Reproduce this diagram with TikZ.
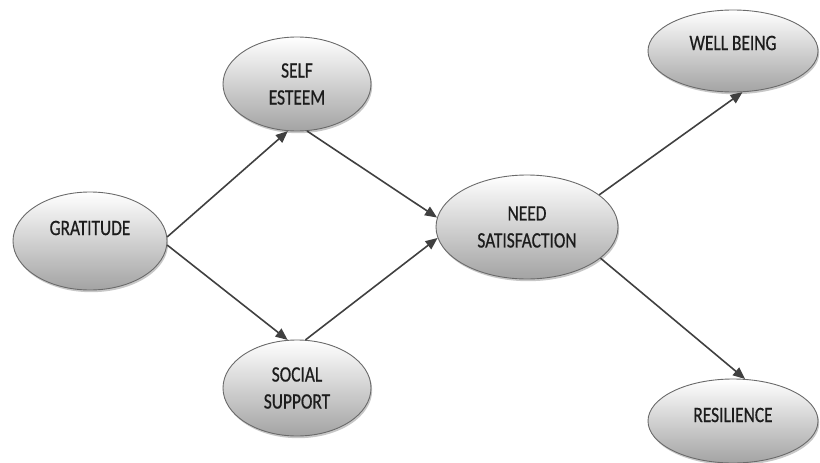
\documentclass[tikz,border=0pt]{standalone}
\usepackage{fontspec}
\setmainfont{Carlito}
\newfontfamily\lblfont[FakeStretch=0.79,FakeBold=0.6]{Carlito}
\usetikzlibrary{shapes.geometric,arrows.meta,shadows}

\definecolor{edgegray}{HTML}{404040}
\definecolor{rimgray}{HTML}{6A6A6A}
\definecolor{txtdark}{HTML}{1C1C1C}

\tikzset{
  construct/.style={ellipse, draw=rimgray, line width=0.9pt, inner sep=0pt,
    top color=white, bottom color=black!36,
    drop shadow={shadow xshift=1.2pt, shadow yshift=-2.2pt, fill=black, opacity=0.22}},
  lbl/.style={font=\lblfont\fontsize{22}{27}\selectfont, text=txtdark, align=center, inner sep=0pt},
  path/.style={draw=edgegray, line width=1.6pt, -{Triangle[length=12pt,width=10pt]}}
}

\begin{document}
\begin{tikzpicture}[x=1pt,y=-1pt]
  \useasboundingbox (0,0) rectangle (820,463);

  % latent constructs
  \node[construct, minimum width=154, minimum height=98]  (grat)   at (90,241)  {};
  \node[construct, minimum width=148, minimum height=94]  (self)   at (297,84)  {};
  \node[construct, minimum width=148, minimum height=96]  (social) at (297,388) {};
  \node[construct, minimum width=182, minimum height=104] (need)   at (527,227) {};
  \node[construct, minimum width=170, minimum height=82]  (well)   at (733,51)  {};
  \node[construct, minimum width=170, minimum height=84]  (res)    at (733,421) {};

  % labels
  \node[lbl] (gratlbl)   at (90,228)  {GRATITUDE};
  \node[lbl] (selflbl)   at (297,84)  {SELF\\ESTEEM};
  \node[lbl] (sociallbl) at (297,388) {SOCIAL\\SUPPORT};
  \node[lbl] (needlbl)   at (527,227) {NEED\\SATISFACTION};
  \node[lbl] (welllbl)   at (733,43)  {WELL BEING};
  \node[lbl] (reslbl)    at (733,415) {RESILIENCE};

  % structural paths
  \draw[path] (grat.3)    -- (self.-101);
  \draw[path] (grat.-3)   -- (social.101);
  \draw[path] (self.-78)  -- (need.174);
  \draw[path] (social.80) -- (need.187);
  \draw[path] (need.24)   -- (well.-77);
  \draw[path] (need.-23)  -- (res.74);
\end{tikzpicture}
\end{document}
